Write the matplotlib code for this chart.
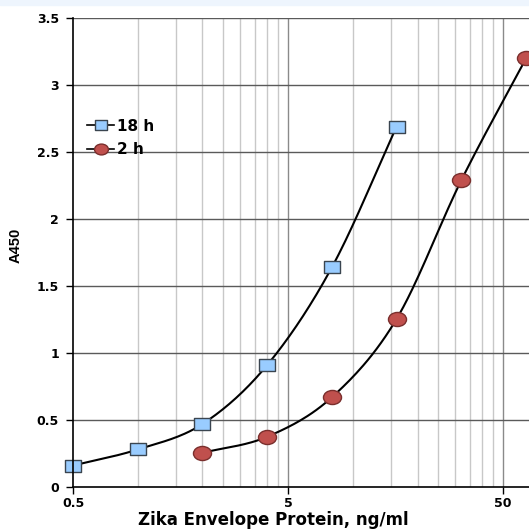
import numpy as np
import matplotlib
matplotlib.use("Agg")
import matplotlib.pyplot as plt
from matplotlib.path import Path
from matplotlib.transforms import Affine2D

# values
conc_18h = [0.5, 1, 2, 4, 8, 16]
a450_18h = [0.16, 0.28, 0.47, 0.91, 1.64, 2.69]
conc_2h = [2, 4, 8, 16, 32, 64]
a450_2h = [0.255, 0.375, 0.67, 1.255, 2.29, 3.2]
y_ticks = [0, 0.5, 1, 1.5, 2, 2.5, 3, 3.5]
x_major = [0.5, 5, 50]

plt.rcParams["font.family"] = ["DejaVu Sans"]
plt.rcParams["font.weight"] = "bold"


def smooth(x, y, n=30):
    # Catmull-Rom curve through the points in log-x space (Excel "smoothed line")
    lx = np.log10(x)
    y = np.asarray(y, float)
    px = np.concatenate([[2 * lx[0] - lx[1]], lx, [2 * lx[-1] - lx[-2]]])
    py = np.concatenate([[2 * y[0] - y[1]], y, [2 * y[-1] - y[-2]]])
    ox, oy = [], []
    t = np.linspace(0, 1, n)
    for i in range(1, len(px) - 2):
        for p, out in ((px, ox), (py, oy)):
            p0, p1, p2, p3 = p[i - 1], p[i], p[i + 1], p[i + 2]
            out.extend(0.5 * (2 * p1 + (-p0 + p2) * t
                              + (2 * p0 - 5 * p1 + 4 * p2 - p3) * t ** 2
                              + (-p0 + 3 * p1 - 3 * p2 + p3) * t ** 3))
    return 10 ** np.array(ox), np.array(oy)


# markers in the reference are a bit wider than tall
sq = Path([(-1, -0.76), (1, -0.76), (1, 0.76), (-1, 0.76), (-1, -0.76)],
          [Path.MOVETO, Path.LINETO, Path.LINETO, Path.LINETO, Path.CLOSEPOLY])
ell = Path.unit_circle().transformed(Affine2D().scale(1, 0.78))

fig = plt.figure(figsize=(5.29, 5.30), dpi=100)
fig.patches.append(plt.Rectangle((0, 0.99), 1, 0.01, transform=fig.transFigure,
                                 color="#eef5fd", zorder=0))
ax = fig.add_axes([73 / 529, 1 - 487 / 530, 456 / 529, 469 / 530])
ax.set_xscale("log")
ax.set_xlim(0.5, 66)
ax.set_ylim(0, 3.5)

# gridlines
for k in range(2, 10):
    for base in (0.5, 5):
        ax.axvline(base * k, color="#c8c8c8", lw=1, zorder=1)
ax.axvline(5, color="#8a8a8a", lw=1, zorder=1)
ax.axvline(50, color="#8a8a8a", lw=1, zorder=1)
for yv in y_ticks[1:]:
    ax.axhline(yv, color="#5a5a5a", lw=1, zorder=1)

sx, sy = smooth(conc_18h, a450_18h)
ax.plot(sx, sy, color="black", lw=1.5, zorder=3)
ax.plot(conc_18h, a450_18h, ls="none", marker=sq, ms=12, mfc="#99ccff",
        mec="#3a4550", mew=1, zorder=4, clip_on=False)
sx, sy = smooth(conc_2h, a450_2h)
ax.plot(sx, sy, color="black", lw=1.5, zorder=3)
ax.plot(conc_2h, a450_2h, ls="none", marker=ell, ms=13, mfc="#c0504d",
        mec="#7a2f2d", mew=1, zorder=4)

# legend handles
ax.plot([], [], color="black", lw=1.2, marker=sq, ms=9, mfc="#99ccff",
        mec="#3a4550", label="18 h")
ax.plot([], [], color="black", lw=1.2, marker=ell, ms=10, mfc="#c0504d",
        mec="#7a2f2d", label="2 h")
leg = ax.legend(loc="upper left", bbox_to_anchor=(0.0, 0.815), frameon=False,
                handlelength=1.8, handletextpad=0.15, labelspacing=0.55,
                prop={"weight": "bold", "size": 11})

ax.set_xticks(x_major)
ax.set_xticklabels(["0.5", "5", "50"])
ax.xaxis.set_minor_locator(matplotlib.ticker.NullLocator())
ax.set_yticks(y_ticks)
ax.set_yticklabels(["0", "0.5", "1", "1.5", "2", "2.5", "3", "3.5"])
ax.tick_params(axis="both", labelsize=9, length=5, width=1, color="black")
ax.tick_params(axis="y", pad=5)
ax.tick_params(axis="x", pad=2)
for lbl in ax.get_xticklabels() + ax.get_yticklabels():
    lbl.set_fontweight("bold")

for s in ("top", "right"):
    ax.spines[s].set_visible(False)
for s in ("left", "bottom"):
    ax.spines[s].set_linewidth(1.2)
    ax.spines[s].set_zorder(5)

ax.set_xlabel("Zika Envelope Protein, ng/ml", fontsize=12, fontweight="bold")
ax.xaxis.set_label_coords(0.439, -0.051)
ax.set_ylabel("A450", fontsize=10.5, fontweight="bold",
              family=["Liberation Sans Narrow", "Liberation Sans"])
ax.yaxis.set_label_coords(-0.11, 0.516)

fig.savefig("out.png", dpi=100)
